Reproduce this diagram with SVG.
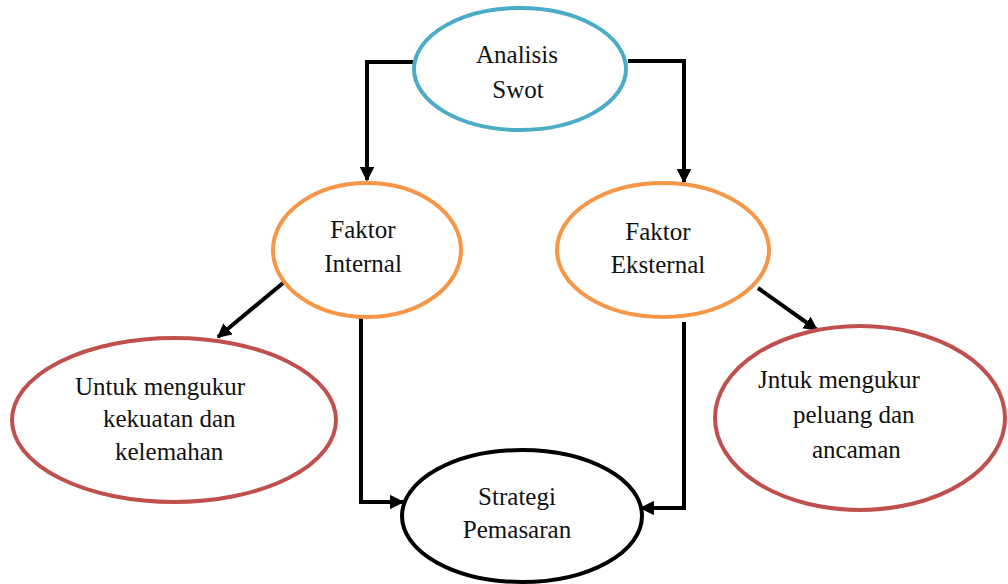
<svg xmlns="http://www.w3.org/2000/svg" width="1008" height="584" viewBox="0 0 1008 584">
<style>
text{font-family:"Liberation Serif","Times New Roman",serif;font-size:25px;fill:#111}
.c{text-anchor:middle}
.e{fill:#fff;stroke-width:4}
.con path{fill:none;stroke:#000;stroke-width:4}
</style>
<defs>
<marker id="ah" viewBox="0 0 10 10" refX="9" refY="5" markerWidth="3.6" markerHeight="3.6" orient="auto" markerUnits="strokeWidth">
<path d="M0,0 L10,5 L0,10 z" fill="#000"/>
</marker>
</defs>
<rect width="1008" height="584" fill="#fff"/>
<g class="con">
<path d="M413,62 H367 V180" marker-end="url(#ah)"/>
<path d="M628,61 H684 V182" marker-end="url(#ah)"/>
<path d="M283,283 L218,337" marker-end="url(#ah)"/>
<path d="M758,288 L817,330" marker-end="url(#ah)"/>
<path d="M361,318 V502 H403" marker-end="url(#ah)"/>
<path d="M684,322 V508 H641" marker-end="url(#ah)"/>
</g>
<g id="analisis">
<ellipse class="e" cx="520" cy="69" rx="106" ry="61" stroke="#4BACC6"/>
<text class="c" x="517" y="63">Analisis</text>
<text class="c" x="518" y="98">Swot</text>
</g>
<g id="internal">
<ellipse class="e" cx="367" cy="250" rx="94" ry="67" stroke="#F79646"/>
<text class="c" x="363" y="238">Faktor</text>
<text class="c" x="363" y="272">Internal</text>
</g>
<g id="eksternal">
<ellipse class="e" cx="663" cy="250" rx="106" ry="67" stroke="#F79646"/>
<text class="c" x="658" y="240">Faktor</text>
<text class="c" x="658" y="273">Eksternal</text>
</g>
<g id="kekuatan">
<ellipse class="e" cx="174" cy="420" rx="162" ry="82" stroke="#C0504D"/>
<text x="75" y="395">Untuk mengukur</text>
<text x="103" y="427">kekuatan dan</text>
<text x="115" y="460">kelemahan</text>
</g>
<g id="peluang">
<ellipse class="e" cx="860" cy="418" rx="145" ry="92" stroke="#C0504D"/>
<text x="758" y="388">Jntuk mengukur</text>
<text x="793" y="423">peluang dan</text>
<text x="812" y="458">ancaman</text>
</g>
<g id="strategi">
<ellipse class="e" cx="522" cy="516" rx="120" ry="66" stroke="#000"/>
<text class="c" x="517" y="505">Strategi</text>
<text class="c" x="517" y="538">Pemasaran</text>
</g>
</svg>
